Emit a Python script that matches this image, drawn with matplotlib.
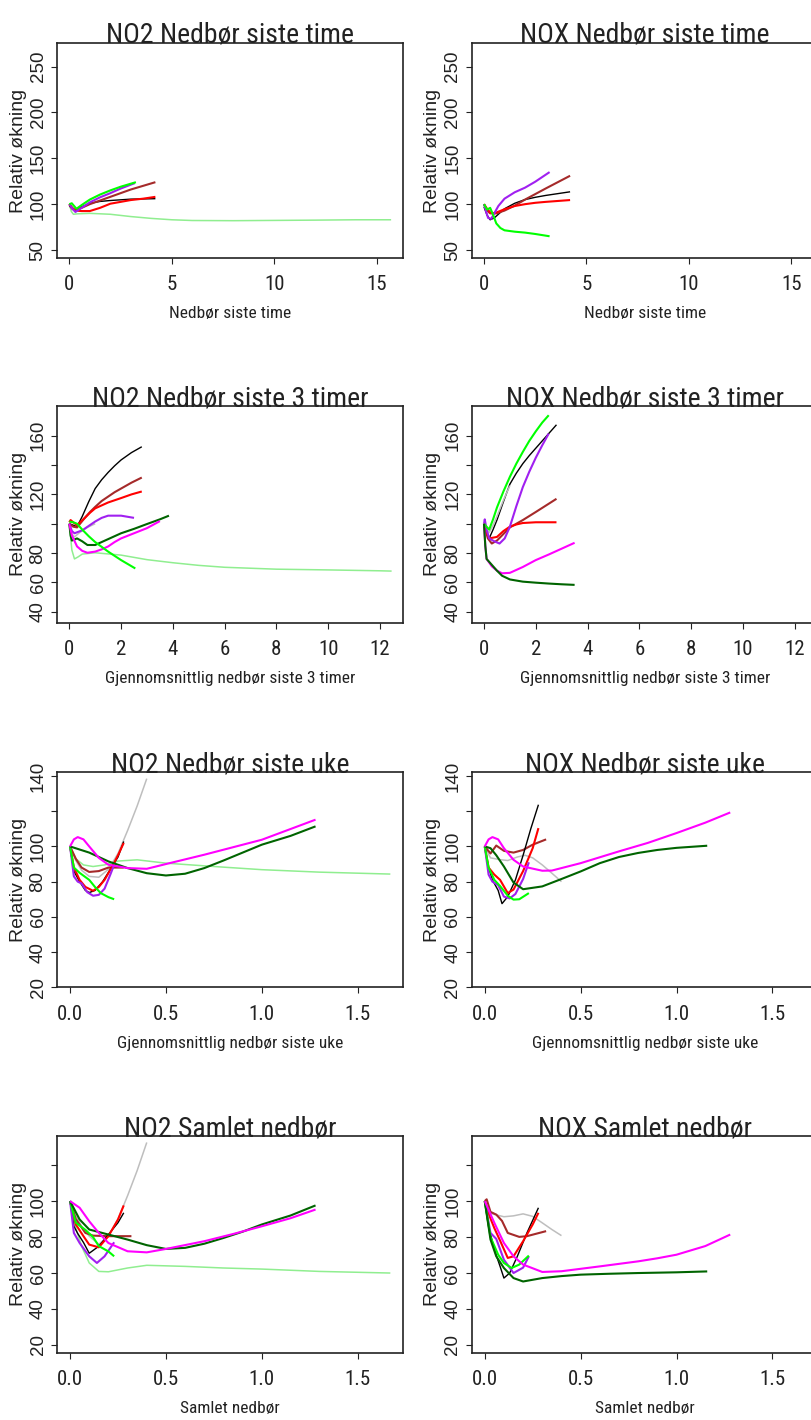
import matplotlib
matplotlib.use("Agg")
import matplotlib.pyplot as plt

# ---- data (x = precipitation, y = relative increase) ----
no2_time = {
    "lightgreen": ([0, 0.1, 0.2, 0.4, 1, 2, 3, 4, 5, 6, 8, 10, 12, 14, 15.7],
                   [100, 92, 89, 89.5, 90, 89, 86.5, 84.5, 83, 82.2, 82, 82.3, 82.6, 83, 83]),
    "black": ([0, 0.15, 0.3, 0.6, 1, 1.5, 2, 3, 4.2], [98, 95, 92.5, 97, 101, 103, 104, 105.5, 106]),
    "brown": ([0, 0.15, 0.3, 0.6, 1, 1.5, 2, 2.5, 3, 3.6, 4.2], [100, 96, 93.5, 96, 100, 104, 108, 112, 116, 120, 124]),
    "red": ([0, 0.15, 0.3, 0.6, 1, 1.5, 2, 2.5, 3, 3.6, 4.2],
            [100, 95, 93, 92.5, 92.5, 96, 100.5, 102.5, 104.5, 106, 108]),
    "purple": ([0, 0.15, 0.3, 0.6, 1, 1.5, 2, 2.5, 3.2], [100, 95, 91.5, 96, 102, 107.5, 112, 117, 123]),
    "green": ([0, 0.12, 0.35, 0.6, 1, 1.5, 2, 2.5, 3.25], [100, 101, 95, 99, 105, 110.5, 115, 119, 124]),
}
nox_time = {
    "black": ([0, 0.15, 0.3, 0.5, 0.75, 1, 1.5, 2, 2.5, 3, 3.6, 4.2],
              [97, 88, 83, 85, 90, 95, 101, 105, 107.5, 109.5, 111.5, 113.5]),
    "brown": ([0, 0.15, 0.3, 0.6, 1, 1.5, 2, 2.5, 3, 3.6, 4.2], [100, 93, 90, 90, 93, 98.5, 105, 111, 117, 124, 131]),
    "red": ([0, 0.15, 0.3, 0.5, 1, 1.5, 2, 2.5, 3, 3.6, 4.2],
            [100, 95, 91, 90, 94.5, 98, 100, 101.5, 102.5, 103.5, 104.5]),
    "purple": ([0, 0.1, 0.2, 0.35, 0.5, 0.7, 1, 1.5, 2, 2.5, 3.2],
               [100, 92, 85, 84, 90, 98, 106, 113, 118, 124.5, 135]),
    "green": ([0, 0.15, 0.3, 0.45, 0.6, 0.8, 1, 1.5, 2, 2.5, 3.2],
              [100, 94, 96, 88, 79, 74, 71.5, 70, 69, 67.5, 65]),
}
no2_3h = {
    "lightgreen": ([0, 0.1, 0.2, 0.35, 0.5, 1, 2, 3, 4, 5, 6, 8, 10, 12, 12.45],
                   [100, 82, 76, 77.5, 79.3, 80.2, 78.6, 75.5, 73.4, 71.6, 70.3, 69, 68.5, 67.9, 67.7]),
    "black": ([0, 0.15, 0.3, 0.5, 0.75, 1, 1.25, 1.5, 1.75, 2, 2.4, 2.8],
              [100, 99, 98, 105, 115, 124, 130, 135, 139.5, 143.5, 148.5, 152.5]),
    "brown": ([0, 0.15, 0.3, 0.6, 0.8, 1, 1.25, 1.5, 1.75, 2, 2.4, 2.8],
              [100, 98, 97.5, 104, 108, 111.5, 115.5, 118.5, 121.5, 124, 128, 131.5]),
    "red": ([0, 0.05, 0.15, 0.3, 0.6, 0.8, 1, 1.25, 1.5, 2, 2.4, 2.8],
            [101, 102.5, 101, 99, 104, 107.5, 110.5, 112.5, 114.5, 117.5, 120, 122]),
    "gray": ([0, 0.1, 0.2, 0.4, 0.7, 1.0], [100, 93, 91, 94, 97.5, 100]),
    "purple": ([0, 0.1, 0.2, 0.5, 0.75, 1, 1.25, 1.5, 2, 2.5], [100, 95, 93.5, 95.5, 98.5, 101.5, 104, 105.5, 105.5, 104]),
    "darkgreen": ([0, 0.05, 0.1, 0.3, 0.5, 0.7, 1, 1.5, 2, 2.5, 3, 3.5, 3.85],
                  [100, 92, 88.5, 90, 88, 85.5, 85.5, 89.5, 93.5, 96.5, 99.8, 103, 105.5]),
    "magenta": ([0, 0.1, 0.3, 0.5, 0.7, 1, 1.25, 1.5, 1.75, 2, 2.5, 3, 3.5],
                [100, 92, 84.5, 81.5, 80.2, 81, 82.5, 84.5, 87.5, 90, 93.5, 97, 101.8]),
    "green": ([0, 0.15, 0.3, 0.5, 0.75, 1, 1.5, 2, 2.55], [101.5, 101, 100, 96, 91.5, 87.5, 81, 75.2, 69.5]),
}
nox_3h = {
    "black": ([0, 0.1, 0.2, 0.35, 0.5, 0.75, 1, 1.25, 1.5, 1.75, 2, 2.4, 2.8],
              [98, 93, 90, 96, 102.5, 115, 127, 134.5, 141, 146.5, 151.5, 159.5, 167.5]),
    "gray": ([0, 0.1, 0.2, 0.35, 0.5, 0.75, 1], [99, 96, 94, 99, 105, 116, 126]),
    "brown": ([0, 0.05, 0.15, 0.3, 0.5, 0.75, 1, 1.5, 2, 2.4, 2.8],
              [100, 96, 90, 86.5, 88.5, 93, 97.5, 102.5, 108, 112.5, 117]),
    "red": ([0, 0.05, 0.2, 0.5, 0.75, 1, 1.25, 1.5, 2, 2.8], [100, 96, 90, 91, 95, 98, 99.5, 100.5, 101, 101]),
    "purple": ([0, 0.03, 0.1, 0.2, 0.4, 0.6, 0.8, 1, 1.25, 1.5, 1.75, 2, 2.25, 2.5],
               [100, 103, 96, 90, 88, 86.5, 90, 98, 112, 125, 135.5, 145, 153.5, 161.5]),
    "green": ([0, 0.1, 0.2, 0.35, 0.5, 0.75, 1, 1.25, 1.5, 1.75, 2, 2.25, 2.5],
              [100, 98, 96, 103, 111, 122, 132, 141, 149, 156.5, 163, 169, 174]),
    "magenta": ([0, 0.05, 0.1, 0.3, 0.5, 0.7, 1, 1.5, 2, 2.5, 3, 3.5],
                [100, 85, 76, 71, 68, 66.2, 66.5, 70.5, 75.2, 79, 83, 87]),
    "darkgreen": ([0, 0.05, 0.1, 0.3, 0.5, 0.7, 1, 1.5, 2, 2.5, 3, 3.5],
                  [100, 85, 76, 72, 68, 64.5, 62, 60.5, 59.8, 59.2, 58.7, 58.3]),
}
no2_week = {
    "lightgreen": ([0, 0.03, 0.07, 0.12, 0.18, 0.25, 0.35, 0.5, 0.75, 1.0, 1.3, 1.67],
                   [100, 93, 89.5, 88.6, 89.5, 91.7, 92.4, 90.5, 88.6, 86.8, 85.4, 84.3]),
    "gray": ([0, 0.03, 0.06, 0.1, 0.15, 0.2, 0.25, 0.3, 0.35, 0.4],
             [100, 92, 86.5, 83, 82.5, 87, 96, 109, 123, 138.5]),
    "brown": ([0, 0.03, 0.06, 0.1, 0.15, 0.2, 0.28], [100, 93, 88, 85.5, 86, 88, 88]),
    "black": ([0, 0.02, 0.05, 0.08, 0.1, 0.13, 0.17, 0.21, 0.25, 0.28],
              [100, 86, 80, 75, 73.8, 75, 80, 87, 94, 102.8]),
    "red": ([0, 0.02, 0.05, 0.08, 0.12, 0.15, 0.18, 0.22, 0.25, 0.28],
            [100, 88, 81, 77, 74.8, 77, 81, 88.6, 95, 102]),
    "purple": ([0, 0.02, 0.04, 0.06, 0.09, 0.12, 0.15, 0.18, 0.21, 0.23],
               [100, 83, 80, 79, 74, 72, 72.5, 76, 84, 89.6]),
    "green": ([0, 0.02, 0.05, 0.1, 0.13, 0.16, 0.2, 0.23], [100, 88, 85, 81, 77, 73.5, 71.2, 70]),
    "darkgreen": ([0, 0.1, 0.2, 0.3, 0.4, 0.5, 0.6, 0.7, 0.8, 0.9, 1.0, 1.15, 1.28],
                  [100, 96.5, 91.5, 87.7, 84.8, 83.5, 84.5, 87.7, 92, 96.5, 101, 106, 111.4]),
    "magenta": ([0, 0.02, 0.04, 0.07, 0.1, 0.15, 0.2, 0.3, 0.4, 0.5, 0.7, 1.0, 1.28],
                [100, 104, 105.3, 104, 100, 93.5, 89.6, 87.7, 87.3, 90, 95.3, 103.8, 115.2]),
}
nox_week = {
    "gray": ([0, 0.03, 0.08, 0.12, 0.17, 0.21, 0.25, 0.3, 0.35, 0.4],
             [100, 93.5, 92.5, 92, 94, 95, 93.5, 89.5, 84.8, 80]),
    "brown": ([0, 0.03, 0.06, 0.1, 0.15, 0.2, 0.25, 0.32], [100, 96, 100.5, 97.5, 96.5, 98, 101, 104]),
    "black": ([0, 0.02, 0.04, 0.07, 0.09, 0.12, 0.16, 0.2, 0.24, 0.28],
              [100, 88, 81, 75, 67.5, 71.5, 81, 95, 110, 123.7]),
    "red": ([0, 0.02, 0.05, 0.08, 0.12, 0.15, 0.2, 0.25, 0.28], [100, 88, 84, 81, 73.5, 75.5, 86, 99, 110.4]),
    "purple": ([0, 0.02, 0.04, 0.07, 0.1, 0.13, 0.16, 0.2, 0.23], [100, 84, 80, 78, 71.5, 70.5, 73, 81.5, 91]),
    "green": ([0, 0.02, 0.05, 0.08, 0.12, 0.15, 0.18, 0.23], [100, 88, 81, 77.5, 72, 69.8, 70, 73.5]),
    "darkgreen": ([0, 0.03, 0.06, 0.1, 0.15, 0.2, 0.3, 0.4, 0.5, 0.6, 0.7, 0.8, 0.9, 1.0, 1.16],
                  [100, 99, 95, 88.6, 79.5, 75.7, 77.3, 81.5, 85.8, 90.5, 94, 96.3, 98, 99.2, 100.4]),
    "magenta": ([0, 0.02, 0.04, 0.07, 0.1, 0.15, 0.2, 0.3, 0.35, 0.5, 0.7, 0.85, 1.0, 1.15, 1.28],
                [100, 104, 105.3, 104, 99, 92.4, 88.6, 86.2, 86.3, 90.5, 97.2, 102, 107.6, 113.5, 119.3]),
}
no2_total = {
    "lightgreen": ([0, 0.03, 0.06, 0.1, 0.15, 0.2, 0.3, 0.4, 0.6, 0.8, 1.0, 1.3, 1.67],
                   [100, 85, 75, 65.6, 60.9, 60.7, 62.8, 64.3, 63.7, 62.8, 62.2, 60.9, 60]),
    "gray": ([0, 0.03, 0.06, 0.1, 0.15, 0.2, 0.25, 0.3, 0.35, 0.4],
             [100, 92, 86, 80.5, 76, 80.5, 90, 103, 117, 132.6]),
    "brown": ([0, 0.03, 0.08, 0.12, 0.2, 0.32], [100, 90, 82.3, 80.8, 80.5, 80.5]),
    "black": ([0, 0.02, 0.04, 0.07, 0.1, 0.15, 0.2, 0.25, 0.28], [100, 86, 82, 77, 71, 74.9, 81.4, 88, 93.5]),
    "red": ([0, 0.03, 0.07, 0.1, 0.15, 0.2, 0.25, 0.28], [100, 87, 80.5, 75.8, 74.3, 80.5, 89.8, 97.6]),
    "purple": ([0, 0.02, 0.05, 0.1, 0.14, 0.18, 0.23], [100, 82.3, 76.7, 69.3, 65.6, 69.3, 77.1]),
    "green": ([0, 0.03, 0.08, 0.12, 0.15, 0.2, 0.23], [100, 88, 84, 80, 75, 72, 69.3]),
    "darkgreen": ([0, 0.05, 0.1, 0.2, 0.3, 0.4, 0.5, 0.6, 0.7, 0.8, 0.9, 1.0, 1.15, 1.28],
                  [100, 89.8, 84.2, 81.4, 78.6, 75.5, 73.4, 74, 76.3, 79.5, 83, 87, 92, 97.6]),
    "magenta": ([0, 0.05, 0.1, 0.15, 0.2, 0.3, 0.4, 0.5, 0.7, 0.85, 1.0, 1.15, 1.28],
                [100, 96.3, 88.8, 82.3, 76.7, 72.1, 71.5, 73.4, 77.7, 81.7, 86, 90.5, 95.3]),
}
nox_total = {
    "gray": ([0, 0.02, 0.05, 0.1, 0.15, 0.2, 0.25, 0.3, 0.35, 0.4],
             [100, 93.5, 92.6, 91.3, 91.8, 92.9, 91.5, 87.9, 84.2, 80.8]),
    "brown": ([0, 0.01, 0.03, 0.06, 0.09, 0.12, 0.18, 0.22, 0.32], [100, 101, 94, 92.5, 89, 82.3, 80.1, 80.5, 83.3]),
    "black": ([0, 0.02, 0.05, 0.08, 0.1, 0.13, 0.17, 0.22, 0.28], [100, 86, 73, 63.7, 57.2, 60, 69.3, 82.3, 96.3]),
    "red": ([0, 0.02, 0.05, 0.08, 0.12, 0.15, 0.2, 0.25, 0.28], [100, 93, 85, 78, 68.4, 69.3, 77.7, 87, 93.5]),
    "purple": ([0, 0.03, 0.06, 0.1, 0.15, 0.2, 0.23], [100, 82.3, 79, 67.4, 60, 63, 69.3]),
    "green": ([0, 0.03, 0.07, 0.1, 0.14, 0.18, 0.23], [100, 80, 70.2, 65.6, 62.8, 64.7, 69.7]),
    "darkgreen": ([0, 0.03, 0.06, 0.1, 0.15, 0.2, 0.3, 0.4, 0.5, 0.65, 0.8, 1.0, 1.16],
                  [100, 78.6, 69.3, 62.8, 57.2, 55.3, 57.2, 58.3, 59.1, 59.6, 60, 60.4, 60.9]),
    "magenta": ([0, 0.05, 0.1, 0.15, 0.2, 0.3, 0.4, 0.6, 0.8, 0.9, 1.0, 1.15, 1.28],
                [100, 87.9, 76.7, 69.3, 64.7, 60.6, 61, 63.7, 66.5, 68.2, 70.2, 75, 81.4]),
}

titles = ["NO2 Nedbør siste time", "NOX Nedbør siste time",
          "NO2 Nedbør siste 3 timer", "NOX Nedbør siste 3 timer",
          "NO2 Nedbør siste uke", "NOX Nedbør siste uke",
          "NO2 Samlet nedbør", "NOX Samlet nedbør"]
xlabels = ["Nedbør siste time", "Gjennomsnittlig nedbør siste 3 timer",
           "Gjennomsnittlig nedbør siste uke", "Samlet nedbør"]
ylabel = "Relativ økning"

xticks_rows = [[0, 5, 10, 15], [0, 2, 4, 6, 8, 10, 12], [0.0, 0.5, 1.0, 1.5], [0.0, 0.5, 1.0, 1.5]]
xticklabels_rows = [["0", "5", "10", "15"], ["0", "2", "4", "6", "8", "10", "12"],
                    ["0.0", "0.5", "1.0", "1.5"], ["0.0", "0.5", "1.0", "1.5"]]
yticks_rows = [[50, 100, 150, 200, 250], [40, 60, 80, 100, 120, 140, 160],
               [20, 40, 60, 80, 100, 120, 140], [20, 40, 60, 80, 100, 120]]
yticklabels_rows = [["50", "100", "150", "200", "250"], ["40", "60", "80", "", "120", "", "160"],
                    ["20", "40", "60", "80", "100", "", "140"], ["20", "40", "60", "80", "100", ""]]

colors = {"black": "#000000", "brown": "#A52A2A", "red": "#FF0000", "purple": "#A020F0",
          "green": "#00FF00", "lightgreen": "#90EE90", "darkgreen": "#006400",
          "magenta": "#FF00FF", "gray": "#BEBEBE"}
widths = {"black": 1.0, "gray": 1.1, "lightgreen": 1.1}

xlims = [(-0.6, 16.28), (-0.475, 12.89), (-0.068, 1.736), (-0.068, 1.736)]
ylims = [(41.3, 275.8), (32.5, 180.3), (20, 142.1), (15.7, 136.2)]

narrow = ["Roboto Condensed", "Open Sans Condensed", "Liberation Sans Narrow",
          "Arial Narrow", "Liberation Sans", "DejaVu Sans"]
regular = ["Liberation Sans", "DejaVu Sans"]

W, H = 811, 1420
fig = plt.figure(figsize=(W / 100, H / 100), dpi=100)

rows_px = [(43, 258), (406, 622.7), (772.3, 987.3), (1136, 1352.7)]
cols_px = [57, 471.7]
box_w = 346

panels = [no2_time, nox_time, no2_3h, nox_3h, no2_week, nox_week, no2_total, nox_total]

for i, data in enumerate(panels):
    r, c = divmod(i, 2)
    top, bot = rows_px[r]
    ax = fig.add_axes([cols_px[c] / W, 1 - bot / H, box_w / W, (bot - top) / H])
    for name, (xs, ys) in data.items():
        ax.plot(xs, ys, color=colors[name], lw=widths.get(name, 1.5), solid_capstyle="butt")
    ax.set_xlim(*xlims[r])
    ax.set_ylim(*ylims[r])
    ax.set_xticks(xticks_rows[r])
    ax.set_xticklabels(xticklabels_rows[r], family=narrow, fontsize=15, color="#222222")
    ax.set_yticks(yticks_rows[r])
    ax.set_yticklabels(yticklabels_rows[r], family=regular, fontsize=13.5,
                       rotation=90, va="center", color="#222222")
    ax.tick_params(direction="out", length=4.5, width=0.8, color="#222222")
    ax.tick_params(axis="x", pad=8)
    ax.tick_params(axis="y", pad=3)
    for s in ax.spines.values():
        s.set_linewidth(1.2)
        s.set_color("#222222")
    ax.set_title(titles[i], y=1.0, pad=0, family=narrow, fontsize=20, color="#222222")
    ax.set_xlabel(xlabels[r], family=narrow, fontsize=12.5, color="#222222")
    ax.xaxis.set_label_coords(0.5, -0.225)
    ax.set_ylabel(ylabel, family=regular, fontsize=14, color="#222222")
    ax.yaxis.set_label_coords(-0.088, 0.5)

fig.savefig("out.png", dpi=100)
